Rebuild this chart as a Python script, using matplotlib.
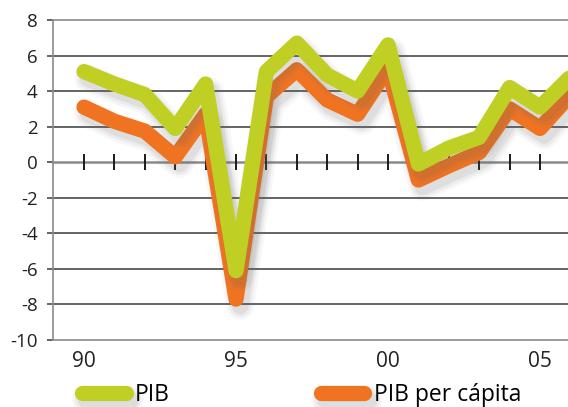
import numpy as np
import matplotlib.pyplot as plt
import matplotlib.patheffects as pe
from matplotlib.lines import Line2D

plt.rcParams['font.family'] = ['Open Sans', 'DejaVu Sans']

years = np.arange(1990, 2007)
pib = [5.1, 4.4, 3.8, 1.9, 4.4, -6.1, 5.1, 6.7, 4.9, 4.0, 6.6,
       -0.1, 0.8, 1.4, 4.2, 3.1, 4.8]
pib_pc = [3.1, 2.3, 1.75, 0.3, 2.7, -7.7, 3.7, 5.2, 3.5, 2.7, 5.3,
          -1.0, -0.2, 0.55, 3.0, 1.9, 3.8]
xtick_pos = [1990, 1995, 2000, 2005]
xtick_lab = ['90', '95', '00', '05']

green = '#bfcf24'
orange = '#f07322'
lw = 11

# soft shadow: a few wide, faint copies offset down-right
shadow = [pe.SimpleLineShadow(offset=(3, -5), shadow_color='#666666', alpha=a, linewidth=lw + w)
          for a, w in [(0.05, 9), (0.07, 5), (0.10, 1)]] + [pe.Normal()]

fig = plt.figure(figsize=(5.68, 4.07), dpi=100)
ax = fig.add_axes([53 / 568, 1 - 340 / 407, 515 / 568, 320 / 407])

ax.set_xlim(1988.98, 2005.92)
ax.set_ylim(-10, 8)

for y in [-8, -6, -4, -2, 2, 4, 6]:
    ax.axhline(y, color='#3a3a3a', lw=1.1, zorder=1)
ax.axhline(0, color='#8a8a8a', lw=1.8, zorder=1)
ax.vlines(years, -0.45, 0.45, color='#1a1a1a', lw=1.4, zorder=2)

ax.plot(years, pib_pc, color=orange, lw=lw, solid_joinstyle='round',
        solid_capstyle='round', path_effects=shadow, zorder=3)
ax.plot(years, pib, color=green, lw=lw, solid_joinstyle='round',
        solid_capstyle='round', path_effects=shadow, zorder=4)

for s in ['left', 'top', 'bottom']:
    ax.spines[s].set_color('#8a8a8a')
    ax.spines[s].set_linewidth(1.2)
ax.spines['right'].set_visible(False)

ax.set_yticks(np.arange(-10, 9, 2))
ax.set_yticklabels([str(v) for v in range(-10, 9, 2)], fontsize=13.5, color='#222222')
ax.tick_params(axis='y', length=4, width=1.1, color='#3a3a3a', pad=7)
ax.set_xticks(xtick_pos)
ax.set_xticklabels(xtick_lab, fontsize=15, color='#222222')
ax.tick_params(axis='x', length=0, pad=8)

handles = [
    Line2D([], [], color=green, lw=lw, solid_capstyle='round', path_effects=shadow),
    Line2D([], [], color=orange, lw=lw, solid_capstyle='round', path_effects=shadow),
]
fig.legend(handles, ['PIB', 'PIB per cápita'], loc='center left',
           bbox_to_anchor=(82 / 568, 12 / 407), ncol=2, frameon=False,
           fontsize=16.5, handlelength=1.9, handletextpad=0.4,
           columnspacing=6.6, borderpad=0, borderaxespad=0)

fig.savefig('out.png', dpi=100)
